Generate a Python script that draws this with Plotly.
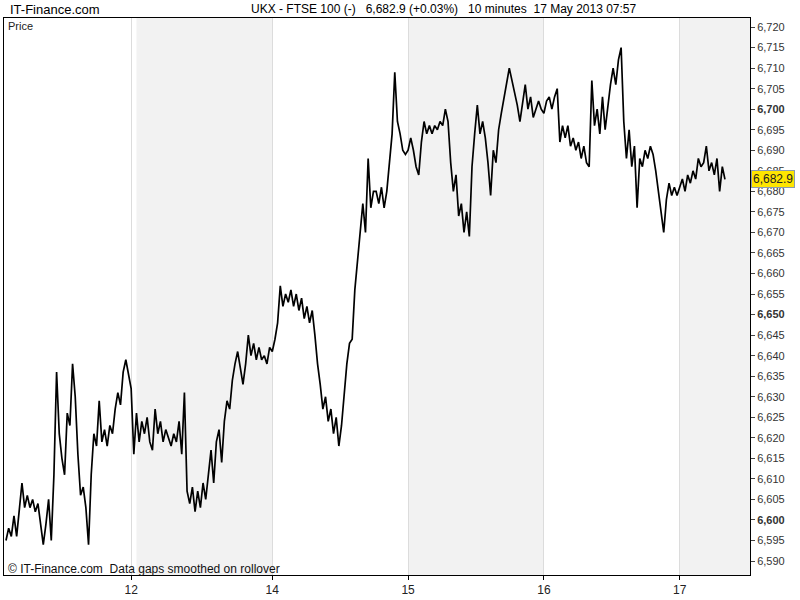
import plotly.graph_objects as go

# 10-minute closes, FTSE 100 (UKX), one list per trading day
day_labels = ["10", "12", "13", "14", "15", "16", "17"]
close_10 = [6595, 6598, 6596, 6601, 6596, 6603, 6609, 6603, 6606, 6603,
            6605, 6602, 6604, 6599, 6594, 6599, 6605, 6595, 6611, 6636,
            6621, 6615, 6611, 6626, 6623, 6638, 6630, 6616, 6606, 6608,
            6603, 6594, 6611, 6621, 6618, 6629, 6619, 6622, 6618, 6623,
            6621, 6627, 6631, 6628, 6636, 6639, 6635]
close_12 = [6632, 6616]
close_13 = [6626, 6619, 6624, 6621, 6625, 6619, 6617, 6627, 6621, 6624,
            6619, 6622, 6620, 6618, 6621, 6619, 6624, 6616, 6631, 6607,
            6604, 6608, 6602, 6607, 6603, 6609, 6605, 6611, 6617, 6609,
            6619, 6622, 6614, 6624, 6629, 6627, 6634, 6638, 6641, 6637,
            6633, 6638, 6645, 6640, 6643, 6639, 6642, 6639, 6640, 6638,
            6642]
close_14 = [6641, 6644, 6648, 6657, 6652, 6655, 6653, 6656, 6652, 6655,
            6651, 6654, 6649, 6652, 6648, 6651, 6645, 6638, 6633, 6627,
            6630, 6624, 6627, 6621, 6625, 6618, 6623, 6630, 6638, 6643,
            6644, 6656, 6663, 6671, 6677, 6670, 6688, 6676, 6680, 6680,
            6677, 6681, 6676, 6680, 6688, 6694, 6709, 6697, 6694, 6690,
            6689]
close_15 = [6690, 6693, 6690, 6686, 6684, 6692, 6697, 6694, 6696, 6694,
            6696, 6695, 6697, 6696, 6700, 6697, 6687, 6680, 6684, 6674,
            6677, 6670, 6675, 6669, 6686, 6694, 6701, 6694, 6697, 6693,
            6687, 6679, 6690, 6687, 6695, 6699, 6703, 6706, 6710, 6707,
            6704, 6701, 6697, 6701, 6706, 6700, 6703, 6698, 6700, 6702,
            6700]
close_16 = [6699, 6702, 6703, 6700, 6703, 6705, 6692, 6696, 6693, 6696,
            6691, 6693, 6690, 6692, 6688, 6691, 6687, 6686, 6707, 6696,
            6700, 6694, 6703, 6695, 6701, 6706, 6710, 6706, 6712, 6715,
            6697, 6688, 6695, 6686, 6691, 6676, 6688, 6686, 6690, 6688,
            6691, 6689, 6685, 6680, 6676, 6670, 6678, 6682, 6679, 6681,
            6679]
close_17 = [6681, 6683, 6680, 6684, 6682, 6685, 6683, 6688, 6686, 6687,
            6691, 6685, 6687, 6684, 6688, 6680, 6686, 6682.9]

tick_days = ["12", "14", "15", "16", "17"]
shaded_days = ["13", "15", "17"]
y_ticks = list(range(6590, 6721, 5))
last_price = 6682.9
header = "UKX - FTSE 100 (-)   6,682.9 (+0.03%)   10 minutes  17 May 2013 07:57"

days = [close_10, close_12, close_13, close_14, close_15, close_16, close_17]
xs, ys, starts = [], [], {}
idx = 0
for lab, vals in zip(day_labels, days):
    starts[lab] = idx
    for v in vals:
        xs.append(idx)
        ys.append(v)
        idx += 1
n_bars = idx
x_left, x_right = -0.75, n_bars + 8.4
ends = {lab: starts[day_labels[k + 1]] if k + 1 < len(day_labels) else x_right
        for k, lab in enumerate(day_labels)}

sans = "Liberation Sans, Arial, sans-serif"

fig = go.Figure()
fig.add_trace(go.Scatter(x=xs, y=ys, mode="lines",
                         line=dict(color="black", width=1.7), hoverinfo="skip"))

shapes = []
for lab in shaded_days:
    shapes.append(dict(type="rect", xref="x", yref="paper", x0=starts[lab], x1=ends[lab],
                       y0=0, y1=1, fillcolor="#f2f2f2", line=dict(width=0), layer="below"))

ticktext = []
for v in y_ticks:
    s = f"{v:,}"
    ticktext.append(f"<b>{s}</b>" if v % 50 == 0 else s)

fig.update_layout(
    width=800, height=600,
    margin=dict(l=3, r=50, t=18, b=20),
    paper_bgcolor="white", plot_bgcolor="white",
    showlegend=False,
    font=dict(family=sans, size=11, color="#222"),
    shapes=shapes,
    xaxis=dict(range=[x_left, x_right], tickvals=[starts[d] for d in tick_days],
               ticktext=tick_days, showgrid=True, gridcolor="#dcdcdc", gridwidth=1,
               zeroline=False, showline=True, linecolor="black", linewidth=1, mirror=True,
               ticks="outside", ticklen=4, tickcolor="black",
               tickfont=dict(family=sans, size=12, color="#222")),
    yaxis=dict(range=[6586.6, 6722.2], side="right", tickvals=y_ticks, ticktext=ticktext,
               showgrid=False, zeroline=False, showline=True, linecolor="black",
               linewidth=1, mirror=True, ticks="outside", ticklen=4, tickcolor="#444",
               tickfont=dict(family=sans, size=11, color="#333")),
    annotations=[
        dict(text="IT-Finance.com", xref="paper", yref="paper", x=0, y=1, xanchor="left",
             yanchor="middle", xshift=4, yshift=9, showarrow=False,
             font=dict(family=sans, size=13, color="black")),
        dict(text=header, xref="paper", yref="paper", x=0.329, y=1, xanchor="left",
             yanchor="middle", yshift=9, showarrow=False,
             font=dict(family=sans, size=12, color="black")),
        dict(text="Price", xref="paper", yref="paper", x=0, y=1, xanchor="left",
             yanchor="middle", xshift=2, yshift=-8, showarrow=False,
             font=dict(family=sans, size=11, color="#222")),
        dict(text="© IT-Finance.com  Data gaps smoothed on rollover", xref="paper",
             yref="paper", x=0, y=0, xanchor="left", yanchor="middle", xshift=2, yshift=6,
             showarrow=False, font=dict(family=sans, size=12, color="#111")),
        dict(text=f"{last_price:,.1f}", xref="paper", yref="y", x=1, y=last_price,
             xanchor="left", yanchor="middle", xshift=1, showarrow=False,
             bgcolor="#ffe600", bordercolor="#8a9bb0", borderwidth=1, borderpad=1,
             font=dict(family=sans, size=12, color="#222")),
    ],
)

fig.write_html("out.html", config={"displayModeBar": False},
               post_script="document.body.style.margin='0';document.body.style.overflow='hidden';")
